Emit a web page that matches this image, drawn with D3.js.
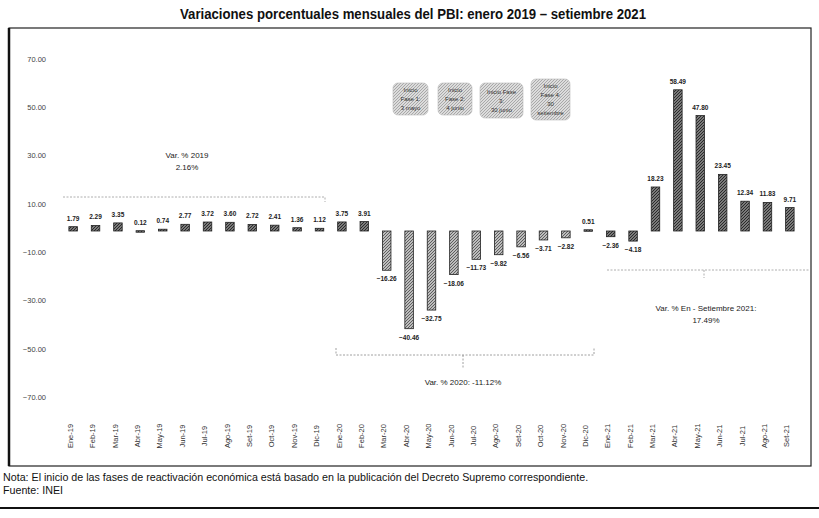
<!DOCTYPE html>
<html>
<head>
<meta charset="utf-8">
<script src="https://cdn.jsdelivr.net/npm/d3@7"></script>
<style>
  body { margin: 0; background: #fff; }
  text { font-family: "Liberation Sans Narrow", "Arial Narrow", "Liberation Sans", sans-serif; }
</style>
</head>
<body>
<script>
const months = [
    'Ene-19', 'Feb-19', 'Mar-19', 'Abr-19', 'May-19', 'Jun-19', 'Jul-19', 'Ago-19', 'Set-19', 'Oct-19', 'Nov-19', 'Dic-19',
    'Ene-20', 'Feb-20', 'Mar-20', 'Abr-20', 'May-20', 'Jun-20', 'Jul-20', 'Ago-20', 'Set-20', 'Oct-20', 'Nov-20', 'Dic-20',
    'Ene-21', 'Feb-21', 'Mar-21', 'Abr-21', 'May-21', 'Jun-21', 'Jul-21', 'Ago-21', 'Set-21'
];
const values = [
    1.79, 2.29, 3.35, 0.12, 0.74, 2.77, 3.72, 3.60, 2.72, 2.41, 1.36, 1.12,
    3.75, 3.91, -16.26, -40.46, -32.75, -18.06, -11.73, -9.82, -6.56, -3.71, -2.82, 0.51,
    -2.36, -4.18, 18.23, 58.49, 47.80, 23.45, 12.34, 11.83, 9.71
];
const yTicks = [70, 50, 30, 10, -10, -30, -50, -70];
const phases = [
    ['Inicio', 'Fase 1:', '3 mayo'],
    ['Inicio', 'Fase 2:', '4 junio'],
    ['Inicio Fase', '3:', '30 junio'],
    ['Inicio', 'Fase 4:', '30', 'setiembre']
];

const width = 819, height = 518;
const svg = d3.select("body").append("svg")
    .attr("width", width)
    .attr("height", height);

// stippled fills
const defs = svg.append("defs");
function stipple(id, bg, dot) {
    const p = defs.append("pattern")
        .attr("id", id)
        .attr("width", 3).attr("height", 3)
        .attr("patternUnits", "userSpaceOnUse");
    p.append("rect").attr("width", 3).attr("height", 3).attr("fill", bg);
    p.append("rect").attr("x", 0).attr("y", 0).attr("width", 1).attr("height", 1).attr("fill", dot);
    p.append("rect").attr("x", 2).attr("y", 1).attr("width", 1).attr("height", 1).attr("fill", dot);
    p.append("rect").attr("x", 1).attr("y", 2).attr("width", 1).attr("height", 1).attr("fill", dot);
}
stipple("darkFill", "#7a7a7a", "#2a2a2a");
stipple("lightFill", "#bdbdbd", "#5e5e5e");
stipple("boxFill", "#dcdcdc", "#a8a8a8");

const x = d3.scaleBand()
    .domain(months)
    .range([55, 808])
    .padding(0.62);

const y = d3.scaleLinear()
    .domain([-70, 70])
    .range([400, 62]);

// title
svg.append("text")
    .attr("x", 180).attr("y", 19)
    .attr("textLength", 466)
    .attr("lengthAdjust", "spacingAndGlyphs")
    .attr("font-size", 14.5)
    .attr("font-weight", "bold")
    .attr("fill", "#111")
    .text("Variaciones porcentuales mensuales del PBI: enero 2019 – setiembre 2021");

// frame
svg.append("rect")
    .attr("x", 9).attr("y", 28)
    .attr("width", 802).attr("height", 438)
    .attr("fill", "none")
    .attr("stroke", "#222")
    .attr("stroke-width", 1.2);
svg.append("line")
    .attr("x1", 9).attr("x2", 9).attr("y1", 28).attr("y2", 466)
    .attr("stroke", "#111").attr("stroke-width", 2.5);

// y axis labels only
const yAxis = d3.axisLeft(y)
    .tickValues(yTicks)
    .tickFormat(d3.format(".2f"))
    .tickSize(0)
    .tickPadding(0);
const yG = svg.append("g")
    .attr("transform", "translate(46,-3)")
    .call(yAxis);
yG.select(".domain").remove();
yG.selectAll("text")
    .attr("font-size", 7.5)
    .attr("fill", "#444")
    .style("font-family", "'Liberation Sans Narrow', 'Arial Narrow', sans-serif");

// x axis labels, rotated
const xAxis = d3.axisBottom(x).tickSize(0);
const xG = svg.append("g")
    .attr("transform", "translate(0,408)")
    .call(xAxis);
xG.select(".domain").remove();
xG.selectAll("text")
    .attr("font-size", 7.5)
    .attr("fill", "#333")
    .attr("transform", "rotate(-90)")
    .attr("text-anchor", "middle")
    .attr("x", -28)
    .attr("y", -3)
    .attr("dy", "0.35em")
    .style("font-family", "'Liberation Sans Narrow', 'Arial Narrow', sans-serif");

// bars
svg.selectAll(".bar")
    .data(values)
    .enter().append("rect")
    .attr("class", "bar")
    .attr("x", (d, i) => x(months[i]))
    .attr("width", x.bandwidth())
    .attr("y", d => y(Math.max(0, d)))
    .attr("height", d => Math.max(1.5, Math.abs(y(d) - y(0))))
    .attr("fill", (d, i) => (i >= 12 && i < 24 && d < 0) ? "url(#lightFill)" : "url(#darkFill)")
    .attr("stroke", "#222")
    .attr("stroke-width", 0.8);

// value labels
svg.selectAll(".val")
    .data(values)
    .enter().append("text")
    .attr("class", "val")
    .attr("x", (d, i) => x(months[i]) + x.bandwidth() / 2)
    .attr("y", d => d >= 0 ? y(d) - 6 : y(d) + 11)
    .attr("text-anchor", "middle")
    .attr("font-size", 6.5)
    .attr("font-weight", "bold")
    .attr("fill", "#222")
    .text(d => d3.format(".2f")(d));

// annotation: 2019
const ann = svg.append("g")
    .attr("font-size", 8)
    .attr("fill", "#222")
    .attr("text-anchor", "middle");
ann.append("text").attr("x", 187).attr("y", 158).text("Var. % 2019");
ann.append("text").attr("x", 187).attr("y", 170).text("2.16%");
svg.append("path")
    .attr("d", "M63,197 H325 V202")
    .attr("fill", "none")
    .attr("stroke", "#999")
    .attr("stroke-width", 0.8)
    .attr("stroke-dasharray", "2,1.5");

// annotation: 2020
svg.append("path")
    .attr("d", "M336,348 V355 H594 V348 M463,355 V368")
    .attr("fill", "none")
    .attr("stroke", "#888")
    .attr("stroke-width", 0.8)
    .attr("stroke-dasharray", "2,1.5");
ann.append("text").attr("x", 463).attr("y", 385).text("Var. % 2020: -11.12%");

// annotation: 2021
svg.append("path")
    .attr("d", "M607,270 H810 M704,270 V278")
    .attr("fill", "none")
    .attr("stroke", "#999")
    .attr("stroke-width", 0.8)
    .attr("stroke-dasharray", "2,1.5");
ann.append("text").attr("x", 706).attr("y", 311).text("Var. % En - Setiembre 2021:");
ann.append("text").attr("x", 706).attr("y", 323).text("17.49%");

// phase boxes
const boxX = [393, 438, 480, 531];
const boxW = [35, 34, 43, 39];
const boxY = [83, 83, 83, 79];
const boxH = [32, 32, 35, 41];
phases.forEach((lines, i) => {
    const g = svg.append("g");
    g.append("rect")
        .attr("x", boxX[i]).attr("y", boxY[i])
        .attr("width", boxW[i]).attr("height", boxH[i])
        .attr("rx", 5)
        .attr("fill", "url(#boxFill)")
        .attr("stroke", "#bbb")
        .attr("stroke-width", 0.6);
    const top = boxY[i] + boxH[i] / 2 - (lines.length - 1) * 4.5 + 2;
    lines.forEach((t, j) => {
        g.append("text")
            .attr("x", boxX[i] + boxW[i] / 2)
            .attr("y", top + j * 9)
            .attr("text-anchor", "middle")
            .attr("font-size", 6)
            .attr("fill", "#333")
            .text(t);
    });
});

// footnotes
svg.append("text")
    .attr("x", 3).attr("y", 481)
    .attr("font-size", 10.7)
    .attr("fill", "#111")
    .text("Nota: El inicio de las fases de reactivación económica está basado en la publicación del Decreto Supremo correspondiente.");
svg.append("text")
    .attr("x", 3).attr("y", 494)
    .attr("font-size", 10.7)
    .attr("fill", "#111")
    .text("Fuente: INEI");
svg.append("line")
    .attr("x1", 0).attr("x2", 819).attr("y1", 508).attr("y2", 508)
    .attr("stroke", "#111").attr("stroke-width", 2);
</script>
</body>
</html>
